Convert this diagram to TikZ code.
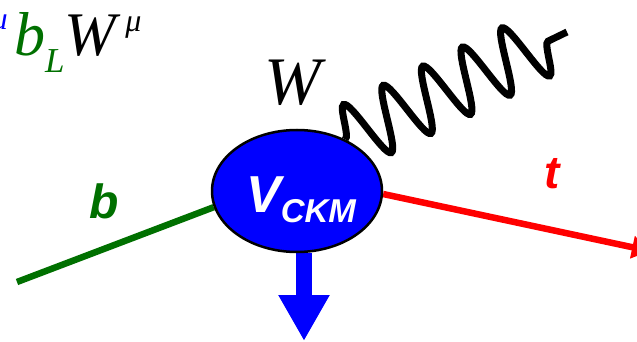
\documentclass[tikz,border=0pt]{standalone}
\usepackage{fontspec}
\setmainfont{Liberation Serif}
\setsansfont{Liberation Sans}
\usetikzlibrary{shapes.geometric,arrows.meta,decorations.pathmorphing,backgrounds}
\definecolor{bgreen}{RGB}{0,112,0}

\begin{document}
\begin{tikzpicture}[x=1pt, y=-1pt,
    quark/.style={line width=6.5pt},
    tag/.style={font=\sffamily\bfseries\itshape, inner sep=0pt, anchor=base},
    mathtag/.style={font=\itshape, inner sep=0pt}]
    \useasboundingbox (0,0) rectangle (637,342);

    % --- Vertice V_CKM ---
    \node[ellipse, draw=black, line width=2.5pt, fill=blue, inner sep=0pt,
          minimum width=170pt, minimum height=122pt] (vckm) at (297,191) {};
    \node[tag, text=white] (vname) at (301,212)
        {\fontsize{52}{52}\selectfont V\raisebox{-10pt}{\fontsize{33}{33}\selectfont CKM}};

    % --- Extremos libres ---
    \coordinate (bin) at (17,282);
    \coordinate (tout) at (650,251);
    \coordinate (wout) at (567,32);
    \coordinate (drain) at (304,341);

    % --- Lineas de particulas ---
    \begin{scope}[on background layer]
        \draw[quark, bgreen] (bin) -- (vckm.191);
        \draw[quark, red, -{Triangle[width=22pt, length=18pt]}] (vckm.358) -- (tout);
        \draw[line width=7pt, decorate,
              decoration={snake, amplitude=32pt, segment length=44pt}] (vckm.47) -- (wout);
        % Flecha de salida
        \draw[blue, line width=16pt, -{Triangle[width=48pt, length=46pt]}]
            (vckm.south -| drain) -- (drain);
    \end{scope}

    % --- Etiquetas ---
    \node[tag, text=bgreen] (blabel) at (104,218) {\fontsize{48}{48}\selectfont b};
    \node[tag, text=red] (tlabel) at (552,188) {\fontsize{46}{46}\selectfont t};
    \node[mathtag, anchor=base] (wlabel) at (293,105) {\fontsize{68}{68}\selectfont W};

    % Acoplamiento (cortado a la izquierda)
    \node[mathtag, anchor=base east, text=blue] (gmu) at (8,30) {\fontsize{32}{32}\selectfont μ};
    \node[mathtag, anchor=base west] (coupling) at (14,56)
        {\fontsize{62}{62}\selectfont\color{bgreen}b\raisebox{-17pt}{\fontsize{35}{35}\selectfont L}%
         \color{black}W\hspace{9pt}\raisebox{24pt}{\fontsize{32}{32}\selectfont μ}};

\end{tikzpicture}
\end{document}
